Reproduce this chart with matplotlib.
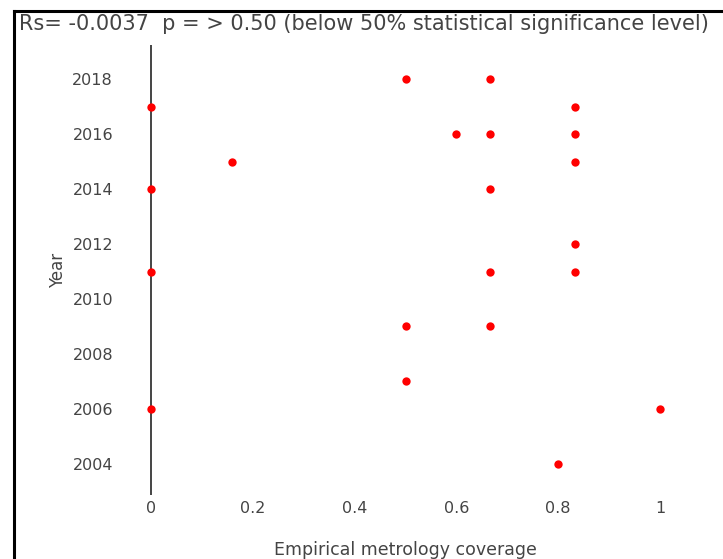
import matplotlib
matplotlib.use("Agg")
import matplotlib.pyplot as plt
from matplotlib.lines import Line2D

plt.rcParams['font.family'] = ['DejaVu Sans']

# coverage vs year
coverage = [0.5, 0.667, 0, 0.833, 0.6, 0.667, 0.833, 0.16, 0.833, 0, 0.667,
            0.833, 0, 0.667, 0.833, 0.5, 0.667, 0.5, 0, 1, 0.8]
years = [2018, 2018, 2017, 2017, 2016, 2016, 2016, 2015, 2015, 2014, 2014,
         2012, 2011, 2011, 2011, 2009, 2009, 2007, 2006, 2006, 2004]

x_ticks = [0, 0.2, 0.4, 0.6, 0.8, 1]
x_ticklabels = ["0", "0.2", "0.4", "0.6", "0.8", "1"]
y_ticks = [2004, 2006, 2008, 2010, 2012, 2014, 2016, 2018]

W, H = 723, 559
fig = plt.figure(figsize=(W / 100, H / 100), dpi=100)
ax = fig.add_axes([120 / W, 1 - 495 / H, 571 / W, 450 / H])

grey = "#444444"
ax.axvline(0, color=grey, lw=1.4, zorder=1)
ax.scatter(coverage, years, s=36, color="#ff0000", zorder=3, linewidths=0)

ax.set_xlim(-0.061, 1.061)
ax.set_ylim(2002.87, 2019.24)
ax.set_xticks(x_ticks)
ax.set_xticklabels(x_ticklabels)
ax.set_yticks(y_ticks)
ax.tick_params(length=0, labelsize=11.5, labelcolor=grey)
ax.tick_params(axis="x", pad=4)
ax.tick_params(axis="y", pad=5)
for s in ax.spines.values():
    s.set_visible(False)

ax.set_xlabel("Empirical metrology coverage", fontsize=12.5, color=grey, labelpad=18)
ax.set_ylabel("Year", fontsize=12, color=grey, labelpad=4)

fig.text(19 / W, 1 - 24 / H, "Rs= -0.0037  p = > 0.50 (below 50% statistical significance level)",
         fontsize=15, color=grey, va="center", ha="left")

# black frame on the left and top
fig.add_artist(Line2D([13.5 / W, 13.5 / W], [0, 1 - 11 / H], transform=fig.transFigure,
                      color="black", lw=2.2))
fig.add_artist(Line2D([13.5 / W, 1], [1 - 11 / H, 1 - 11 / H], transform=fig.transFigure,
                      color="black", lw=2.2))

fig.savefig("out.png", dpi=100)
